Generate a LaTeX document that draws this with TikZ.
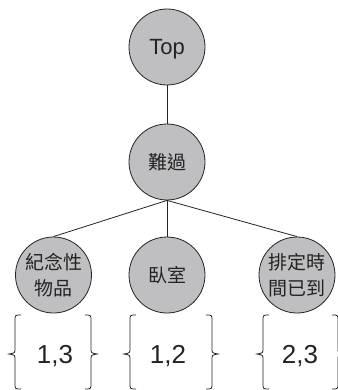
\documentclass[tikz,border=0pt]{standalone}
\usepackage{fontspec}
\setmainfont{Liberation Sans}
\newfontfamily\cjk{Noto Sans CJK TC}
\definecolor{ballgray}{RGB}{191,191,193}
\definecolor{inkgray}{RGB}{35,35,35}
\tikzset{
  ball/.style={circle, draw=inkgray, line width=0.8pt, fill=ballgray,
    minimum size=76pt, inner sep=0pt, text=inkgray, align=center},
  edge/.style={draw=inkgray, line width=0.8pt},
  bracestyle/.style={draw=inkgray, line width=0.8pt},
  num/.style={font=\fontsize{26}{26}\selectfont, text=inkgray, anchor=base},
  cjktext/.style={font=\cjk\fontsize{19}{26}\selectfont},
  % opening curly brace, origin at its tip
  lbrace/.pic={\draw[bracestyle] (6,-39) .. controls (0,-39) .. (0,-33)
      -- (0,-6) .. controls (0,-1) .. (-6,0) .. controls (0,1) .. (0,6)
      -- (0,29) .. controls (0,35) .. (6,35);},
}
\begin{document}
\begin{tikzpicture}[x=1pt,y=-1pt]
\useasboundingbox (0,0) rectangle (337,390);

% tree nodes
\node[ball, font=\fontsize{22}{22}\selectfont, text depth=0pt] (top) at (167,47) {Top};
\node[ball, cjktext] (sad) at (167,162) {難過};
\node[ball, cjktext] (gift) at (53.5,275) {紀念性\\物品};
\node[ball, cjktext] (room) at (167,275) {臥室};
\node[ball, cjktext] (time) at (297,275) {排定時\\間已到};

% branches
\draw[edge] (top.south) -- (sad.north);
\draw[edge] (sad.south) -- (gift.north);
\draw[edge] (sad.south) -- (room.north);
\draw[edge] (sad.south) -- (time.north);

% sets under the leaves
\node[num] (s1) at (55,363) {1,3};
\node[num] (s2) at (168,363) {1,2};
\node[num] (s3) at (300,363) {2,3};

\pic at (15,354) {lbrace};
\pic[xscale=-1] at (91,354) {lbrace};
\pic at (130,354) {lbrace};
\pic[xscale=-1] at (212,354) {lbrace};
\pic at (263,354) {lbrace};
\pic[xscale=-1] at (338,354) {lbrace};
\end{tikzpicture}
\end{document}
